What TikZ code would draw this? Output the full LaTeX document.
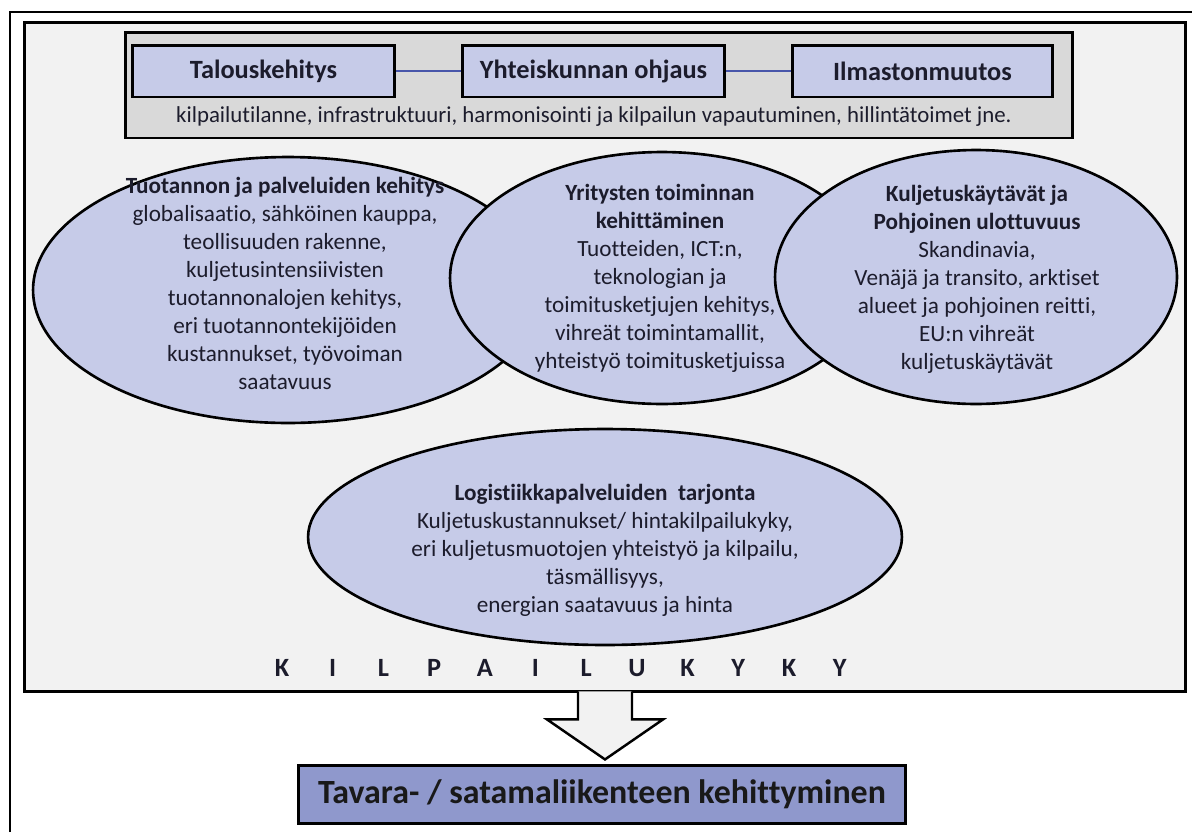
\documentclass[tikz,border=0pt]{standalone}
\usepackage{fontspec}
\setmainfont[Ligatures={NoCommon,NoRare,NoContextual}]{Carlito}
\usetikzlibrary{positioning,shapes.geometric,calc}
\definecolor{framefill}{RGB}{242,242,242}
\definecolor{panelgray}{RGB}{217,217,217}
\definecolor{lavfill}{RGB}{198,203,232}
\definecolor{goalfill}{RGB}{143,152,204}
\definecolor{linkblue}{RGB}{72,86,170}
\definecolor{inktext}{RGB}{28,28,44}

\tikzset{
  panel/.style={draw, line width=1.7pt, fill=framefill, inner sep=0pt},
  topbox/.style={draw, line width=1.7pt, fill=lavfill, inner sep=0pt, minimum height=1.04cm,
    font=\fontsize{15}{18}\selectfont\bfseries, text=inktext},
  linkline/.style={linkblue, line width=0.9pt},
  bubble/.style={ellipse, draw, line width=1.5pt, fill=lavfill, inner sep=0pt},
  bubbletext/.style={align=center, text=inktext, inner sep=0pt, font=\fontsize{13.2}{15.9}\selectfont},
  spaced/.style={font=\fontsize{15}{18}\selectfont\bfseries, text=inktext, inner sep=0pt},
  bigarrow/.style={draw, fill=framefill, line width=1.4pt, line join=miter},
  goalbox/.style={draw, line width=1.7pt, fill=goalfill, inner sep=0pt,
    font=\fontsize{19.3}{22}\selectfont\bfseries, text=black!90}
}

\begin{document}
\begin{tikzpicture}[x=0.02cm, y=-0.02cm]
  \useasboundingbox (0,0) rectangle (1192,832);
  % page edge
  \draw[line width=0.6pt] (10,832) -- (10,12) -- (1192,12);

  % Main panel
  \node[panel, minimum width=23.24cm, minimum height=13.4cm] (frame) at (605,357) {};

  % Drivers row
  \node[panel, fill=panelgray, minimum width=18.96cm, minimum height=2.12cm] (drivers) at (599,85) {};
  \node[topbox, minimum width=5.26cm] (talous) at (263.5,71) {Talouskehitys};
  \node[topbox, minimum width=5.26cm] (ohjaus) at (593.5,71) {Yhteiskunnan ohjaus};
  \node[topbox, minimum width=5.22cm] (ilmasto) at (922.5,71) {Ilmastonmuutos};
  \draw[linkline] (talous) -- (ohjaus);
  \draw[linkline] (ohjaus) -- (ilmasto);
  \node[bubbletext, font=\fontsize{13}{15}\selectfont] (driverstxt) at (594,117)
    {kilpailutilanne, infrastruktuuri, harmonisointi ja kilpailun vapautuminen, hillintätoimet jne.};

  % Bubbles
  \node[bubble, minimum width=10.2cm, minimum height=5.32cm] (prod) at (288,290) {};
  \node[bubbletext] (prodtxt) at (285,283.5) {\textbf{Tuotannon ja palveluiden kehitys}\\
    globalisaatio, sähköinen kauppa,\\ teollisuuden rakenne,\\ kuljetusintensiivisten\\
    tuotannonalojen kehitys,\\ eri tuotannontekijöiden\\ kustannukset, työvoiman\\ saatavuus};

  \node[bubble, minimum width=8.48cm, minimum height=5.04cm] (firms) at (662,278) {};
  \node[bubbletext] (firmstxt) at (660,278.5) {\textbf{Yritysten toiminnan}\\ \textbf{kehittäminen}\\
    Tuotteiden, ICT:n,\\ teknologian ja\\ toimitusketjujen kehitys,\\ vihreät toimintamallit,\\
    yhteistyö toimitusketjuissa};

  \node[bubble, minimum width=8.04cm, minimum height=5.08cm] (corridors) at (976,277) {};
  \node[bubbletext] (corridorstxt) at (977,279.5) {\textbf{Kuljetuskäytävät ja}\\ \textbf{Pohjoinen ulottuvuus}\\
    Skandinavia,\\ Venäjä ja transito, arktiset\\ alueet ja pohjoinen reitti,\\ EU:n vihreät\\
    kuljetuskäytävät};

  \node[bubble, minimum width=11.88cm, minimum height=4.32cm] (logist) at (605,537) {};
  \node[bubbletext] (logisttxt) at (605,550.5) {\textbf{Logistiikkapalveluiden\ \ tarjonta}\\
    Kuljetuskustannukset/ hintakilpailukyky,\\ eri kuljetusmuotojen yhteistyö ja kilpailu,\\
    täsmällisyys,\\ energian saatavuus ja hinta};

  % Spaced caption
  \foreach \ch [count=\i from 0] in {K,I,L,P,A,I,L,U,K,Y,K,Y}
    \node[spaced] (kk\i) at (282+50.7*\i,668) {\ch};

  % Outcome
  \node[goalbox, minimum width=12.16cm, minimum height=1.16cm] (goal) at (602,794)
    {Tavara- / satamaliikenteen kehittyminen};
  \filldraw[bigarrow] ($(frame.south)+(-27,-2)$) -- ++(0,28) -- ++(-31,0)
    -- ($(frame.south)+(0,66)$) -- ($(frame.south)+(58,26)$) -- ++(-31,0) -- ++(0,-28);
\end{tikzpicture}
\end{document}
